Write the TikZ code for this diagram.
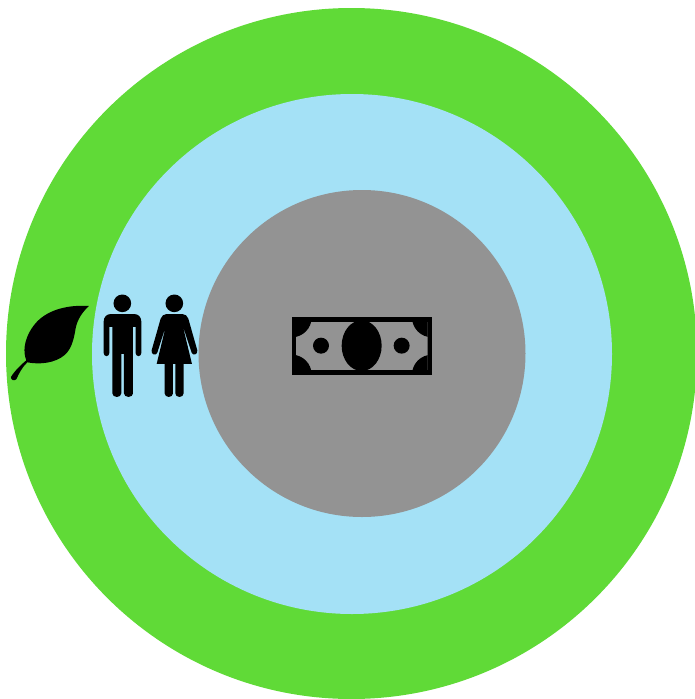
\documentclass[tikz,border=0pt]{standalone}
\definecolor{ringgreen}{HTML}{60DA37}
\definecolor{ringblue}{HTML}{A4E1F6}
\definecolor{ringgray}{HTML}{939393}
\tikzset{
  ring/.style={fill=#1,draw=none},
  icon/.style={fill=black,draw=none},
}
\begin{document}
\begin{tikzpicture}[x=1pt,y=-1pt]
\useasboundingbox (0,0) rectangle (695,699);
% rings
\fill[ring=ringgreen] (351.5,353.5) circle[radius=345.5];
\fill[ring=ringblue] (352,354) circle[radius=260];
\fill[ring=ringgray] (362,353.5) circle[radius=163.5];
% leaf (zoom coordinates)
\begin{scope}[shift={(0,280)},x=0.3333pt,y=-0.3333pt]
\fill[icon] (267,78)
  .. controls (205,74) and (148,88) .. (112,124)
  .. controls (85,152) and (70,190) .. (74,222)
  .. controls (75,230) and (77,236) .. (79,241)
  .. controls (62,255) and (42,275) .. (33,291)
  .. controls (32,300) and (42,304) .. (49,298)
  .. controls (56,282) and (66,262) .. (82,247)
  .. controls (118,254) and (165,250) .. (194,225)
  .. controls (215,206) and (221,180) .. (227,145)
  .. controls (232,118) and (248,95) .. (267,78) -- cycle;
% man
\fill[icon] (367,70) circle[radius=26.5];
\fill[icon] (333,102) -- (402,102)
  .. controls (416,102) and (424,112) .. (424,125)
  -- (424,219) arc[start angle=0,end angle=180,x radius=8.5,y radius=9.5]
  -- (407,141) -- (399,141) -- (399,340)
  arc[start angle=0,end angle=180,x radius=13.5,y radius=11]
  -- (372,222) -- (364,222) -- (364,340)
  arc[start angle=0,end angle=180,x radius=13.5,y radius=11]
  -- (337,141) -- (328,141) -- (328,219)
  arc[start angle=0,end angle=180,x radius=8.5,y radius=9.5]
  -- (311,125) .. controls (311,112) and (319,102) .. (333,102) -- cycle;
% woman
\fill[icon] (523,70) circle[radius=26.5];
\fill[icon] (500,102) -- (547,102)
  .. controls (556,102) and (562,108) .. (565,116)
  -- (592,211)
  .. controls (594,224) and (579,228) .. (575,218)
  -- (548,136) -- (576,252) -- (551,252) -- (551,340)
  arc[start angle=0,end angle=180,x radius=12.5,y radius=11]
  -- (526,252) -- (519,252) -- (519,340)
  arc[start angle=0,end angle=180,x radius=12.5,y radius=11]
  -- (494,252) -- (470,252) -- (498,136)
  -- (472,218)
  .. controls (468,228) and (452,224) .. (455,211)
  -- (482,116) .. controls (485,108) and (491,102) .. (500,102) -- cycle;
\end{scope}
% banknote (zoom coordinates)
\begin{scope}[shift={(280,305)},x=0.3333pt,y=-0.3333pt]
\fill[icon] (35,37) rectangle (456,209);
\begin{scope}
\clip (48,50) rectangle (443,195);
\fill[ring=ringgray] (48,50) rectangle (443,195);
\fill[icon] (35,37) circle[radius=60];
\fill[icon] (456,37) circle[radius=60];
\fill[icon] (35,209) circle[radius=60];
\fill[icon] (456,209) circle[radius=60];
\end{scope}
\fill[icon] (245,122) ellipse[x radius=60,y radius=76];
\fill[icon] (123,122) circle[radius=24];
\fill[icon] (365,122) circle[radius=24];
\end{scope}
\end{tikzpicture}
\end{document}
